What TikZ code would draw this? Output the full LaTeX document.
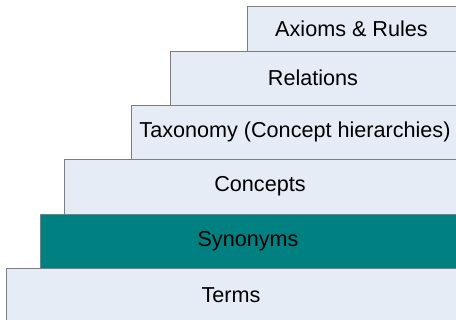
\documentclass[tikz,border=0pt]{standalone}
\usepackage{fontspec}
\setmainfont{Liberation Sans}
\usepackage{xcolor}
\usetikzlibrary{positioning,calc}
\definecolor{layer}{RGB}{230, 236, 246}
\definecolor{teal}{RGB}{0, 128, 128}
\definecolor{edge}{RGB}{125, 125, 125}

\begin{document}
\begin{tikzpicture}[x=0.02cm, y=-0.02cm, font=\fontsize{12.3}{14}\selectfont]
        \clip (0,0) rectangle (456,320);

        \draw[edge, fill=layer] (247,6) rectangle (460,51);
        \node (axioms) at (351.5,28.5) {Axioms \& Rules};

        \draw[edge, fill=layer] (170,51) rectangle (460,105);
        \node (relations) at (313,78) {Relations};

        \draw[edge, fill=layer] (131,105) rectangle (460,159);
        \node (taxonomy) at (295,132) {Taxonomy (Concept hierarchies)};

        \draw[edge, fill=layer] (64,159) rectangle (460,214);
        \node (concepts) at (260,186.5) {Concepts};

        \draw[edge, fill=teal] (40,214) rectangle (460,268);
        \node (synonyms) at (248,241) {Synonyms};

        \draw[edge, fill=layer] (6,268) rectangle (460,324);
        \node (terms) at (231,295) {Terms};

      \end{tikzpicture}
\end{document}
